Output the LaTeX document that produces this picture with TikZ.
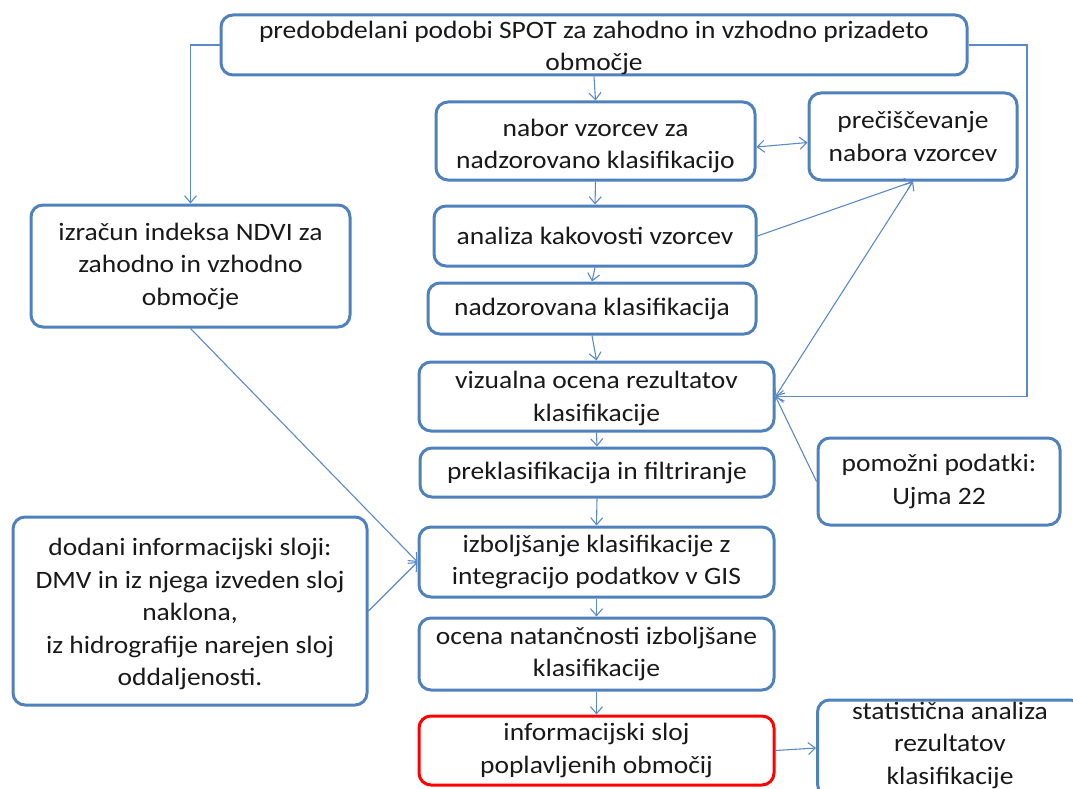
\documentclass[tikz,border=0pt]{standalone}
\usepackage{fontspec}
\setmainfont{Carlito}[FakeStretch=1.1]
\usetikzlibrary{arrows.meta}
\definecolor{boxblue}{RGB}{79,129,189}
\definecolor{lineblue}{RGB}{91,138,200}
\definecolor{boxred}{RGB}{255,0,0}
\tikzset{
  txt/.style={align=center, inner sep=0pt, font=\fontsize{25}{32.5}\selectfont, text=black!90},
  box/.style={txt, draw=boxblue, line width=3pt, rounded corners=12pt, fill=white},
  redbox/.style={box, draw=boxred},
  arr/.style={draw=lineblue, line width=1.1pt, -{Straight Barb[length=7pt,width=12pt]}},
  dblarr/.style={draw=lineblue, line width=1.1pt, {Straight Barb[length=7pt,width=12pt]}-{Straight Barb[length=7pt,width=12pt]}}
}
\begin{document}
\begin{tikzpicture}[x=1pt,y=-1pt]
\useasboundingbox (0,0) rectangle (1073,789);
\clip (0,0) rectangle (1073,789);

% central column
\node[box, minimum width=746pt, minimum height=60pt] (top) at (594,45) {};
\node[txt] (topt) at (594,48)
  {predobdelani podobi SPOT za zahodno in vzhodno prizadeto\\območje};
\node[box, minimum width=319pt, minimum height=78pt] (nab) at (595.5,141) {};
\node[txt] (nabt) at (595.5,146) {nabor vzorcev za\\nadzorovano klasifikacijo};
\node[box, minimum width=322pt, minimum height=60pt] (ana) at (595,236)
  {analiza kakovosti vzorcev};
\node[box, minimum width=328pt, minimum height=51pt] (nad) at (592,308.5)
  {nadzorovana klasifikacija};
\node[box, minimum width=355pt, minimum height=69pt] (viz) at (596.5,396.5) {};
\node[txt] (vizt) at (596.5,398.5) {vizualna ocena rezultatov\\klasifikacije};
\node[box, minimum width=354pt, minimum height=49pt] (prk) at (597,472.5)
  {preklasifikacija in filtriranje};
\node[box, minimum width=355pt, minimum height=70pt] (izb) at (596.5,562)
  {izboljšanje klasifikacije z\\integracijo podatkov v GIS};
\node[box, minimum width=355pt, minimum height=72pt] (oce) at (596.5,654)
  {ocena natančnosti izboljšane\\klasifikacije};
\node[redbox, minimum width=355pt, minimum height=69pt] (inf) at (596.5,750.5)
  {informacijski sloj\\poplavljenih območij};

% side boxes
\node[box, minimum width=208pt, minimum height=87pt] (prc) at (913,136.5)
  {prečiščevanje\\nabora vzorcev};
\node[box, minimum width=242pt, minimum height=87pt] (pom) at (939,481.5)
  {pomožni podatki:\\Ujma 22};
\node[box, minimum width=319pt, minimum height=122pt] (izr) at (190.5,266)
  {izračun indeksa NDVI za\\zahodno in vzhodno\\območje};
\node[box, minimum width=354pt, minimum height=188pt] (dod) at (190,611) {};
\node[txt] (dodt) at (190,614)
  {dodani informacijski sloji:\\DMV in iz njega izveden sloj\\naklona,\\iz hidrografije narejen sloj\\oddaljenosti.};
\node[box, minimum width=265pt, minimum height=96pt] (sta) at (950,748) {};
\node[txt] (stat) at (950,745) {statistična analiza\\rezultatov\\klasifikacije};

% flow down the central column
\draw[arr] (top.south) -- (nab.north);
\draw[arr] (nab.south) -- (ana.north);
\draw[arr] (ana.south) -- (nad.north);
\draw[arr] (nad.south) -- (viz.north);
\draw[arr] (viz.south) -- (prk.north);
\draw[arr] (prk.south) -- (izb.north);
\draw[arr] (izb.south) -- (oce.north);
\draw[arr] (oce.south) -- (inf.north);

% feedback and side connections
\draw[dblarr] ([yshift=-6pt]nab.east) -- ([yshift=-6pt]prc.west);
\draw[arr] (ana.east) -- (prc.south);
\draw[dblarr] (viz.east) -- (prc.south);
\coordinate (loopR) at (1027,45);
\draw[arr] (top.east) -- (loopR) |- (viz.east);
\draw[arr] (top.west) -| (izr.north);
\draw[arr] (pom.west) -- (viz.east);
\draw[arr] (izr.south) -- (izb.west);
\draw[arr] (dod.east) -- (izb.west);
\draw[arr] (inf.east) -- (sta.west);
\end{tikzpicture}
\end{document}
